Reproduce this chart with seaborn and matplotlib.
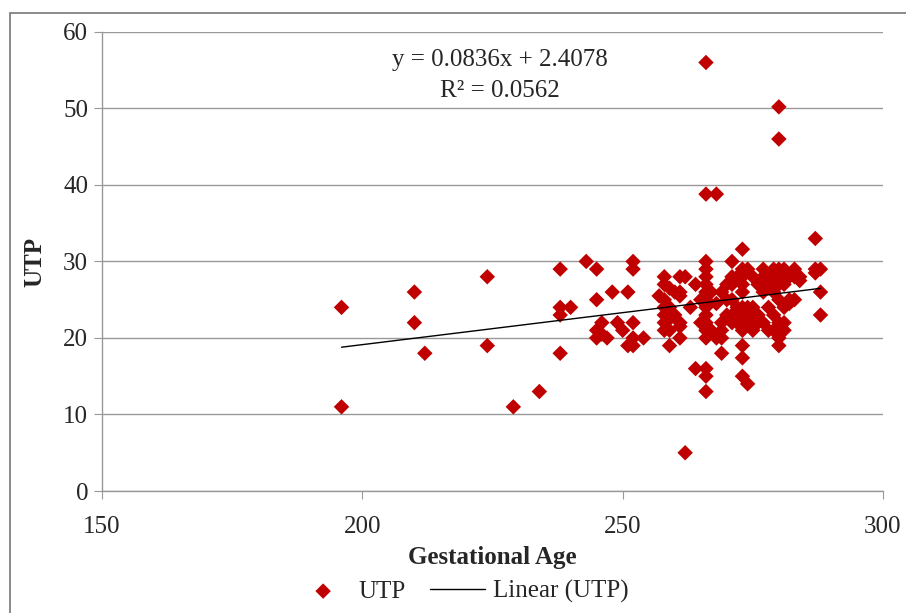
import numpy as np
import pandas as pd
import seaborn as sns
import matplotlib.pyplot as plt
from matplotlib.patches import Rectangle

# gestational age (days) and UTP values
ga = [196, 196, 210, 210, 212, 224, 224, 229, 234,
      238, 238, 238, 238, 240, 243, 245, 245, 245, 245, 246, 246, 247, 248, 249, 250, 251, 251,
      252, 252, 252, 252, 252, 254,
      258, 258, 258, 258, 258, 258, 258, 257,
      259, 259, 259, 259, 259,
      260, 260,
      261, 261, 261, 261, 261, 261, 262, 262,
      264, 264, 263,
      265, 265,
      266, 266, 266, 266, 266, 266, 266, 266, 266, 266, 266, 266, 266, 266, 266, 266,
      267, 267,
      268, 268, 268,
      269, 269, 269, 269, 269,
      270, 270, 270,
      271, 271, 271, 271, 271, 271,
      272, 272, 272,
      273, 273, 273, 273, 273, 273, 273, 273, 273, 273, 273, 273,
      274, 274, 274, 274,
      275, 275, 275, 275, 275,
      276, 276, 276,
      277, 277, 277, 277,
      278, 278, 278, 278,
      279, 279, 279, 279, 279,
      280, 280, 280, 280, 280, 280, 280, 280, 280,
      281, 281, 281, 281, 281,
      282, 282, 282,
      283, 283, 283,
      284, 284,
      287, 287, 287,
      288, 288, 288]
utp = [24, 11, 26, 22, 18, 28, 19, 11, 13,
       29, 24, 23, 18, 24, 30, 29, 25, 21, 20, 22, 20.5, 20, 26, 22, 21, 26, 19,
       30, 29, 22, 20, 19, 20,
       28, 27, 25, 24, 23, 22, 21, 25.5,
       26.5, 24, 22.5, 21, 19,
       26, 23,
       28, 26, 25.5, 22, 21.5, 20, 28, 5,
       27, 16, 24,
       25, 22,
       56, 38.8, 30, 29, 28, 27, 26, 25, 24, 23, 22, 21, 20, 16, 15, 13,
       26, 21,
       38.8, 24.5, 20,
       26, 22, 21, 20, 18,
       27, 25, 23,
       30, 28, 27, 25, 23, 22,
       28, 24, 22,
       31.6, 29, 28, 27, 26, 24, 23, 22, 21, 19, 17.4, 15,
       14, 24, 22, 29,
       28, 24, 23, 22, 21,
       27, 23, 22,
       29, 28, 26, 22,
       28, 27, 24, 21,
       29, 26, 23, 21, 27.5,
       50.2, 46, 29, 28, 27, 25, 22, 20, 19,
       29, 27, 24, 22, 21,
       28, 25, 24.5,
       29, 28, 25,
       28, 27.5,
       33, 29, 28.5,
       29, 26, 23]

slope = 0.0836
intercept = 2.4078
eq_text = "y = 0.0836x + 2.4078"
r2_text = "R² = 0.0562"

df = pd.DataFrame({"Gestational Age": ga, "UTP": utp})
xs = np.array([min(ga), max(ga)], dtype=float)
trend = pd.DataFrame({"x": xs, "y": slope * xs + intercept})

sns.set_style("white")
plt.rcParams['font.family'] = ['Liberation Serif', 'DejaVu Serif']
fs = 18

fig = plt.figure(figsize=(9.06, 6.13), dpi=100)
ax = fig.add_axes([0.1126, 0.199, 0.862, 0.749])

sns.scatterplot(data=df, x="Gestational Age", y="UTP", marker="D", s=62,
                color="#C00000", edgecolor="none", ax=ax, label="UTP", zorder=3)
sns.lineplot(data=trend, x="x", y="y", color="black", lw=1, ax=ax,
             label="Linear (UTP)", zorder=4)

ax.set_xlim(150, 300)
ax.set_ylim(0, 60)
ax.set_xticks([150, 200, 250, 300])
ax.set_yticks(range(0, 61, 10))
ax.yaxis.grid(True, color="#999999", lw=1)
ax.set_axisbelow(True)
for s in ["top", "right"]:
    ax.spines[s].set_visible(False)
for s in ["left", "bottom"]:
    ax.spines[s].set_color("#999999")
    ax.spines[s].set_linewidth(1)
ax.tick_params(axis="both", direction="out", length=6, color="#999999",
               labelsize=fs, left=True, bottom=True)
ax.tick_params(axis="x", pad=12)
ax.tick_params(axis="y", pad=4)
ax.set_xlabel("Gestational Age", fontsize=fs, fontweight="bold", labelpad=6)
ax.set_ylabel("UTP", fontsize=fs, fontweight="bold", labelpad=12)

ax.text(0.51, 0.938, eq_text, transform=ax.transAxes, ha="center", va="center", fontsize=fs)
ax.text(0.51, 0.872, r2_text, transform=ax.transAxes, ha="center", va="center", fontsize=fs)

handles, labels = ax.get_legend_handles_labels()
ax.get_legend().remove()
fig.legend(handles, labels, loc="center", bbox_to_anchor=(0.51, 0.035), ncol=2,
           frameon=False, fontsize=fs, handlelength=2.2, columnspacing=1.0,
           handletextpad=0.3)

fig.patches.append(Rectangle((10 / 906, -0.05), 1.0, 1 - 13 / 613 + 0.05,
                             transform=fig.transFigure, fill=False,
                             edgecolor="#777777", lw=1.2))

fig.savefig("out.png", dpi=100)
